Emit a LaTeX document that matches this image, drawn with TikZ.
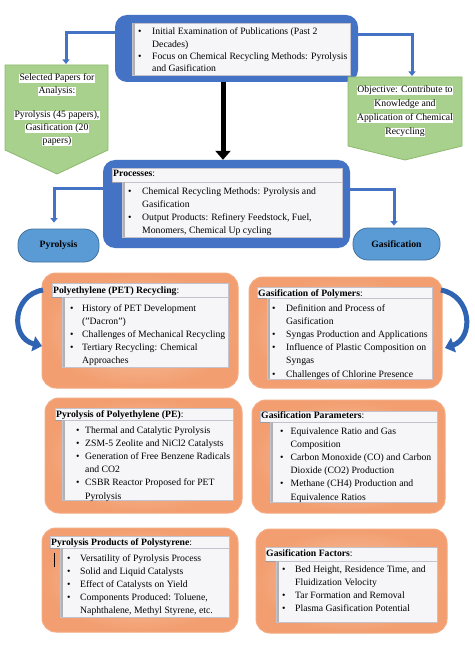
\documentclass[tikz,border=0pt]{standalone}
\usepackage{fontspec}
\setmainfont{Liberation Serif}
\usetikzlibrary{arrows.meta}
\definecolor{mblue}{RGB}{68,114,196}
\definecolor{pblue}{RGB}{91,155,213}
\definecolor{pbord}{RGB}{65,113,156}
\definecolor{gfill}{RGB}{169,209,142}
\definecolor{gbord}{RGB}{140,185,110}
\definecolor{oin}{RGB}{249,200,168}
\definecolor{oout}{RGB}{242,158,112}
\definecolor{obord}{RGB}{244,170,130}
\definecolor{panel}{RGB}{246,246,249}
\definecolor{pedge}{RGB}{195,195,205}
\definecolor{carrow}{RGB}{46,100,178}
\newcommand\mkbox[7]{\node[#2, minimum width={#5-#3}, minimum height={#6-#4}] (#1) at ({(#3+#5)/2},{(#4+#6)/2}) {#7};}
\newcommand\hpanel[4]{\fill[panel] (#1,#2) rectangle (#3,#4); \draw[pedge,line width=0.5pt] (#1,#2) rectangle (#3,#4); \draw[pedge!80!black,line width=0.8pt] (#1,#4) -- (#3,#4);}
\newcommand\lpanel[4]{\fill[panel] (#1,#2) rectangle (#3,#4); \draw[pedge,line width=0.5pt] (#1,#2) rectangle (#3,#4); \draw[gray!60,line width=2pt] ({#1+1.5},#2) -- ({#1+1.5},#4);}
\newcommand\blist[2]{\begin{tabular}[t]{@{}p{#1}@{}l@{}}#2\end{tabular}}
\newcommand\hlw[1]{{\setlength\fboxsep{0.4pt}\colorbox{white}{#1}}}
\begin{document}
\begin{tikzpicture}[x=1pt,y=-1pt,
  bluebox/.style={fill=mblue, rounded corners=12pt, inner sep=0pt},
  pill/.style={fill=pblue, draw=pbord, line width=0.8pt, rounded corners=15pt, inner sep=0pt, font=\fontsize{9.7}{11}\selectfont\bfseries},
  obox/.style={inner color=oin, outer color=oout, draw=obord, line width=1pt, rounded corners=14pt, inner sep=0pt},
  gbox/.style={fill=gfill, draw=gbord, line width=0.8pt},
  txt/.style={inner sep=0pt, anchor=base west, font=\fontsize{9.7}{13.2}\selectfont},
  gtxt/.style={inner sep=0pt, anchor=base, font=\fontsize{9.7}{13}\selectfont},
  conn/.style={draw=mblue, line width=3pt, -{Triangle[width=7pt,length=4.5pt]}},
  carr/.style={draw=carrow, line width=5pt, -{Triangle[width=15pt,length=9pt]}}]
\useasboundingbox (0,0) rectangle (474,652);
\fill[white] (0,0) rectangle (474,652);

% ---- top box
\mkbox{top}{bluebox}{115}{15}{358}{82}{}
\lpanel{132}{23}{350}{75}
\node[txt, font=\fontsize{9.7}{12.3}\selectfont] (toptxt) at (138,35) {\blist{14pt}{%
\textbullet & Initial Examination of Publications (Past 2\\
 & Decades)\\
\textbullet & Focus on Chemical Recycling Methods: Pyrolysis\\
 & and Gasification}};

% ---- green boxes
\draw[gbox] (5,65) -- (108,65) -- (108,150) -- (57,174) -- (5,150) -- cycle;
\node[gtxt] (gL) at (57,81) {\begin{tabular}[t]{@{}c@{}}\hlw{Selected Papers for}\\ \hlw{Analysis:}\\[11pt] \hlw{Pyrolysis (45 papers),}\\ \hlw{Gasification (20}\\ \hlw{papers)}\end{tabular}};
\draw[gbox] (348,77) -- (462,77) -- (462,146) -- (405,160) -- (348,146) -- cycle;
\node[gtxt, font=\fontsize{9.7}{14}\selectfont] (gR) at (405,93) {\begin{tabular}[t]{@{}c@{}}\hlw{Objective: Contribute to}\\ \hlw{Knowledge and}\\ \hlw{Application of Chemical}\\ \hlw{Recycling}\end{tabular}};

\coordinate (topL) at (115,33);
\coordinate (gLin) at (66,64);
\draw[conn] (topL) -| (gLin);
\coordinate (topR) at (358,35);
\coordinate (gRin) at (412,76);
\draw[conn] (topR) -| (gRin);

% ---- processes
\mkbox{proc}{bluebox}{103}{160}{350}{248}{}
\coordinate (ba) at (223,0);
\draw[line width=5pt, -{Triangle[width=15pt,length=9pt]}] (top.south -| ba) -- (proc.north -| ba);
\hpanel{112}{168}{342}{182}
\lpanel{122}{182}{342}{237}
\node[txt] (prochead) at (113,177) {\textbf{Processes}:};
\node[txt] (proctxt) at (128,194) {\blist{14pt}{%
\textbullet & Chemical Recycling Methods: Pyrolysis and\\
 & Gasification\\
\textbullet & Output Products: Refinery Feedstock, Fuel,\\
 & Monomers, Chemical Up cycling}};

\mkbox{pyro}{pill}{18}{229}{99}{262}{Pyrolysis}
\mkbox{gasi}{pill}{353}{228}{440}{260}{Gasification}
\coordinate (pL) at (103,189);
\coordinate (pR) at (350,190);
\draw[conn] (pL) -| ([xshift=-4.5pt,yshift=6pt]pyro.north);
\draw[conn] (pR) -| ([xshift=-2.5pt,yshift=2pt]gasi.north);

% ---- orange boxes
\mkbox{o1}{obox}{42}{273}{238}{388}{}
\mkbox{o2}{obox}{249}{277}{442}{388}{}
\mkbox{o3}{obox}{45}{398}{242}{513}{}
\mkbox{o4}{obox}{252}{400}{445}{513}{}
\mkbox{o5}{obox}{42}{528}{238}{632}{}
\mkbox{o6}{obox}{256}{529}{447}{633}{}

% row 1 left
\hpanel{52}{283}{228}{297}
\lpanel{62}{297}{228}{367}
\node[txt] (h1) at (53,293) {\textbf{Polyethylene (PET) Recycling}:};
\node[txt] (l1) at (70,311) {\blist{12pt}{%
\textbullet & History of PET Development\\
 & ("Dacron")\\
\textbullet & Challenges of Mechanical Recycling\\
\textbullet & Tertiary Recycling: Chemical\\
 & Approaches}};

% row 1 right
\hpanel{257}{287}{432}{298}
\lpanel{267}{298}{432}{379}
\node[txt] (h2) at (258,296) {\textbf{Gasification of Polymers}:};
\node[txt] (l2) at (272,311) {\blist{14pt}{%
\textbullet & Definition and Process of\\
 & Gasification\\
\textbullet & Syngas Production and Applications\\
\textbullet & Influence of Plastic Composition on\\
 & Syngas\\
\textbullet & Challenges of Chlorine Presence}};

% row 2 left
\hpanel{55}{408}{233}{420}
\lpanel{62}{420}{233}{500}
\node[txt] (h3) at (56,417) {\textbf{Pyrolysis of Polyethylene (PE)}:};
\node[txt] (l3) at (76,433) {\blist{9pt}{%
\textbullet & Thermal and Catalytic Pyrolysis\\
\textbullet & ZSM-5 Zeolite and NiCl2 Catalysts\\
\textbullet & Generation of Free Benzene Radicals\\
 & and CO2\\
\textbullet & CSBR Reactor Proposed for PET\\
 & Pyrolysis}};

% row 2 right
\hpanel{260}{411}{437}{422}
\lpanel{270}{422}{437}{502}
\node[txt] (h4) at (261,418) {\textbf{Gasification Parameters}:};
\node[txt] (l4) at (280,434) {\blist{10.5pt}{%
\textbullet & Equivalence Ratio and Gas\\
 & Composition\\
\textbullet & Carbon Monoxide (CO) and Carbon\\
 & Dioxide (CO2) Production\\
\textbullet & Methane (CH4) Production and\\
 & Equivalence Ratios}};

% row 3 left
\hpanel{50}{536}{229}{548}
\lpanel{60}{548}{229}{617}
\node[txt] (h5) at (51,545) {\textbf{Pyrolysis Products of Polystyrene}:};
\node[txt] (l5) at (67,561) {\blist{13pt}{%
\textbullet & Versatility of Pyrolysis Process\\
\textbullet & Solid and Liquid Catalysts\\
\textbullet & Effect of Catalysts on Yield\\
\textbullet & Components Produced: Toluene,\\
 & Naphthalene, Methyl Styrene, etc.}};
\draw[line width=0.7pt] (54,553) -- (54,567);

% row 3 right
\hpanel{265}{547}{437}{561}
\lpanel{276}{561}{437}{622}
\node[txt] (h6) at (266,556) {\textbf{Gasification Factors}:};
\node[txt] (l6) at (282,572) {\blist{13pt}{%
\textbullet & Bed Height, Residence Time, and\\
 & Fluidization Velocity\\
\textbullet & Tar Formation and Removal\\
\textbullet & Plasma Gasification Potential}};

% curved arrows
\coordinate (c1s) at (43,290);
\coordinate (c1e) at (42,346);
\draw[carr] (c1s) .. controls (12,295) and (10,338) .. (c1e);
\coordinate (c2s) at (441,290);
\coordinate (c2e) at (445,348);
\draw[carr] (c2s) .. controls (472,296) and (474,338) .. (c2e);
\end{tikzpicture}
\end{document}
